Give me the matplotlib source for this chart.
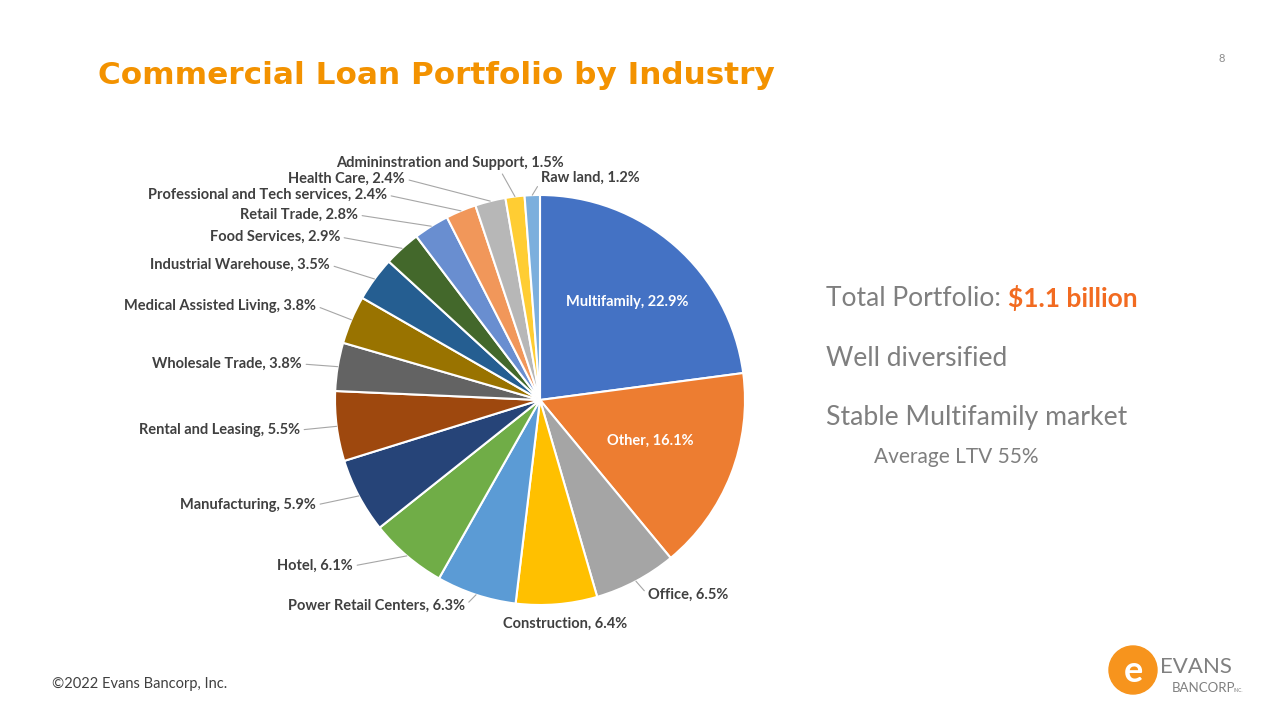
import numpy as np
import matplotlib.pyplot as plt
from matplotlib.patches import Circle

# data, clockwise from 12 o'clock
industries = ['Multifamily', 'Other', 'Office', 'Construction', 'Power Retail Centers',
              'Hotel', 'Manufacturing', 'Rental and Leasing', 'Wholesale Trade',
              'Medical Assisted Living', 'Industrial Warehouse', 'Food Services',
              'Retail Trade', 'Professional and Tech services', 'Health Care',
              'Admininstration and Support', 'Raw land']
shares = [22.9, 16.1, 6.5, 6.4, 6.3, 6.1, 5.9, 5.5, 3.8, 3.8, 3.5, 2.9, 2.8, 2.4, 2.4, 1.5, 1.2]
colors = ['#4472C4', '#ED7D31', '#A5A5A5', '#FFC000', '#5B9BD5', '#70AD47', '#264478',
          '#9E480E', '#636363', '#997300', '#255E91', '#43682B', '#698ED0', '#F1975A',
          '#B7B7B7', '#FFCD33', '#7CAFDD']

# label layout in pixels: (x, y, ha, leader relpos or None)
lab_pos = [(627, 301, 'center', None), (650, 440, 'center', None),
           (648, 594, 'left', (0, 0.5)), (565, 623, 'center', None),
           (465, 605, 'right', (1, 0.5)), (353, 565, 'right', (1, 0.5)),
           (316, 504, 'right', (1, 0.5)), (300, 429, 'right', (1, 0.5)),
           (302, 363, 'right', (1, 0.5)), (316, 305, 'right', (1, 0.5)),
           (330, 264, 'right', (1, 0.5)), (340, 236, 'right', (1, 0.5)),
           (358, 214, 'right', (1, 0.5)), (387, 194, 'right', (1, 0.5)),
           (405, 178, 'right', (1, 0.5)), (450, 162, 'center', (0.72, 0)),
           (541, 177, 'left', (0, 0.3))]

W, H = 1280, 720
CX, CY, R = 540, 400, 205
fig = plt.figure(figsize=(12.8, 7.2), dpi=100)
plt.rcParams['font.family'] = ['Lato', 'DejaVu Sans']

ax = fig.add_axes([(CX - R) / W, (H - CY - R) / H, 2 * R / W, 2 * R / H])
wedges, _ = ax.pie(shares, colors=colors, startangle=90, counterclock=False, radius=1,
                   wedgeprops=dict(edgecolor='white', linewidth=1.5))
ax.set_xlim(-1, 1)
ax.set_ylim(-1, 1)
ax.set_aspect('equal')
ax.axis('off')

def to_data(px, py):
    return (px - CX) / R, (CY - py) / R

for w, name, val, (px, py, ha, rel) in zip(wedges, industries, shares, lab_pos):
    txt = f'{name}, {val}%'
    tx, ty = to_data(px, py + 1)
    col = 'white' if name in ('Multifamily', 'Other') else '#404040'
    if rel is not None:
        ang = np.deg2rad((w.theta1 + w.theta2) / 2)
        ex, ey = np.cos(ang), np.sin(ang)
        ax.annotate(txt, xy=(ex, ey), xytext=(tx, ty), ha=ha, va='center',
                    fontsize=10.5, fontweight='bold', color=col, annotation_clip=False,
                    arrowprops=dict(arrowstyle='-', color='#a6a6a6', lw=0.8,
                                    shrinkA=1, shrinkB=0, relpos=rel))
    else:
        ax.text(tx, ty, txt, ha=ha, va='center', fontsize=10.5, fontweight='bold', color=col)

# title and slide text
fig.text(98 / W, 1 - 76 / H, 'Commercial Loan Portfolio by Industry', fontsize=22.4,
         fontweight='bold', color='#F39200', va='center', family=['DejaVu Sans'])
fig.text(1222 / W, 1 - 58 / H, '8', fontsize=8, color='#8c8c8c', ha='center', va='center')
fig.text(826 / W, 1 - 298 / H, 'Total Portfolio: ', fontsize=19, color='#7f7f7f', va='center')
fig.text(1008 / W, 1 - 298 / H, '$1.1 billion', fontsize=19, color='#F26B21',
         fontweight='bold', va='center')
fig.text(826 / W, 1 - 358 / H, 'Well diversified', fontsize=19, color='#7f7f7f', va='center')
fig.text(826 / W, 1 - 417 / H, 'Stable Multifamily market', fontsize=19.2, color='#7f7f7f',
         va='center')
fig.text(874 / W, 1 - 457 / H, 'Average LTV 55%', fontsize=15, color='#7f7f7f', va='center')
fig.text(52 / W, 1 - 684 / H, '\u00a92022 Evans Bancorp, Inc.', fontsize=10.5, color='#404040',
         va='center')

# logo
lax = fig.add_axes([1108 / W, 1 - 695 / H, 50 / W, 50 / H])
lax.add_patch(Circle((0.5, 0.5), 0.48, color='#F7941D'))
lax.text(0.5, 0.47, 'e', fontsize=26, fontweight='bold', color='white', ha='center',
         va='center')
lax.set_xlim(0, 1)
lax.set_ylim(0, 1)
lax.axis('off')
fig.text(1160 / W, 1 - 667 / H, 'EVANS', fontsize=16, color='#808080', va='center')
fig.text(1172 / W, 1 - 688 / H, 'BANCORP', fontsize=9.5, color='#808080', va='center')
fig.text(1233 / W, 1 - 690 / H, 'INC.', fontsize=3.5, color='#808080', va='center')

fig.savefig('out.png', dpi=100, facecolor='white')
